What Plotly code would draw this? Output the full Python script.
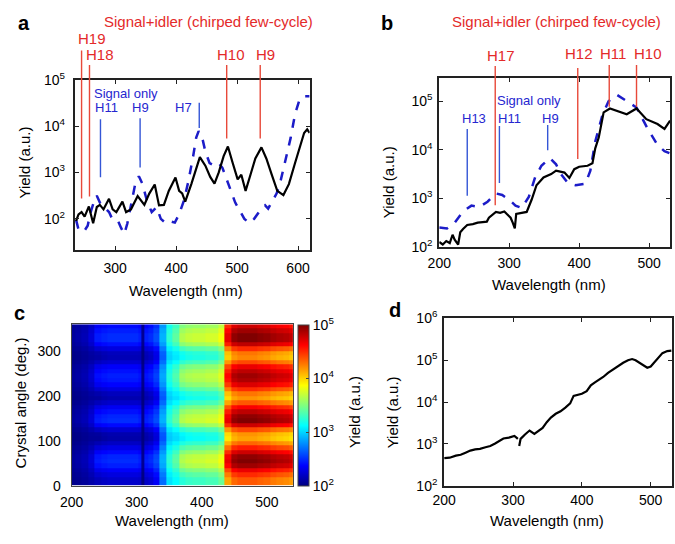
import plotly.graph_objects as go

W, H = 675, 544
FONT = "Liberation Sans, Arial, Helvetica, sans-serif"
RED = "#e42a2a"
RED_LINE = "#e8493a"
BLUE = "#2626d0"
BLUE_LINE = "#3456d6"
DASH_BLUE = "#1c1cc8"
AXC = "#222222"
TICK_SIZE = 14
TITLE_SIZE = 15

# ---------------- Panel a data ----------------
a_sum_wl = [236, 240, 245, 250, 257, 264, 270, 275, 281, 290, 296, 302, 312, 318, 326, 337, 348, 356,
            365, 372, 380, 388, 399, 405, 410, 415, 425, 432, 439, 448, 456, 463, 470, 478, 485, 493,
            501, 507, 514, 522, 530, 540, 548, 557, 566, 576, 585, 595, 603, 610, 615, 619]
a_sum_yield = [90, 125, 140, 112, 185, 80, 180, 200, 160, 270, 160, 140, 235, 140, 160, 310, 200, 350,
               550, 195, 200, 400, 780, 400, 355, 235, 560, 1120, 2140, 1400, 800, 575, 1000, 2240, 3630, 1580,
               710, 890, 400, 890, 2000, 3470, 2000, 890, 400, 325, 560, 1580, 3550, 7080, 8500, 7080]
a_sig_wl = [236, 240, 245, 250, 255, 260, 266, 270, 275, 282, 290, 296, 305, 310, 315, 320, 327, 333, 339,
            345, 352, 360, 368, 375, 383, 390, 398, 405, 413, 420, 428, 433, 437, 442, 448, 455, 462, 470,
            476, 482, 490, 497, 505, 512, 520, 528, 536, 546, 551, 556, 565, 572, 580, 588, 595, 602, 608, 619]
a_sig_yield = [95, 59, 63, 56, 71, 140, 250, 316, 224, 178, 140, 95, 89, 63, 47, 79, 224, 562, 830,
               562, 250, 140, 178, 100, 81, 89, 83, 126, 250, 630, 2240, 5620, 7760, 6310, 2820, 1580, 1410, 1580,
               1260, 794, 398, 224, 141, 100, 81, 100, 141, 195, 166, 220, 355, 708, 2000, 5620, 17800, 35500, 43600, 43600]

# ---------------- Panel b data ----------------
b_sum_wl = [200, 205, 210, 215, 219, 222, 227, 230, 234, 240, 248, 255, 262, 268, 271, 281, 287, 293, 297,
            302, 305, 308, 310, 316, 325, 332, 339, 349, 360, 367, 379, 386, 393, 400, 412, 419, 423, 428,
            435, 444, 456, 468, 482, 496, 512, 522, 530]
b_sum_yield = [126, 112, 132, 120, 178, 141, 112, 200, 234, 282, 295, 316, 324, 331, 398, 525, 501, 537, 468,
               398, 316, 240, 479, 501, 525, 933, 1860, 2690, 3160, 3720, 3390, 2630, 3980, 4470, 4680, 5250, 10700, 17800,
               58900, 70800, 61700, 53700, 70800, 42700, 33900, 26900, 39800]
b_sig_wl = [200, 211, 222, 234, 246, 257, 269, 281, 290, 300, 309, 318, 328, 337, 346, 358, 367, 374, 384,
            395, 409, 416, 423, 433, 442, 454, 465, 482, 498, 512, 522, 529]
b_sig_yield = [251, 240, 316, 537, 708, 661, 851, 1260, 1170, 933, 708, 631, 1070, 2690, 4680, 6760, 5010, 3160, 2040,
               1860, 2000, 3720, 14800, 50100, 100000, 135000, 107000, 74100, 26900, 12600, 9330, 8510]

# ---------------- Panel c data (log10 yield map) ----------------
c_wl = [200, 210, 220, 230, 240, 250, 260, 270, 280, 290, 300, 305, 310, 315, 320, 330, 340, 350, 360,
        370, 380, 390, 400, 410, 420, 430, 440, 450, 460, 470, 480, 490, 500, 510, 520, 530, 540]
c_base = [2.05, 2.07, 2.1, 2.16, 2.25, 2.28, 2.3, 2.3, 2.3, 2.3, 2.3, 2.28, 2.02, 2.28, 2.32, 2.42, 2.75, 3.1, 3.2,
          3.35, 3.4, 3.42, 3.42, 3.45, 3.45, 3.55, 4.3, 4.5, 4.55, 4.55, 4.55, 4.52, 4.5, 4.45, 4.42, 4.4, 4.35]
c_amp = [0.04, 0.05, 0.06, 0.1, 0.2, 0.2, 0.2, 0.2, 0.2, 0.2, 0.2, 0.18, 0.04, 0.18, 0.18, 0.18, 0.15, 0.15, 0.2,
         0.3, 0.3, 0.3, 0.3, 0.3, 0.3, 0.3, 0.4, 0.45, 0.45, 0.45, 0.45, 0.45, 0.45, 0.45, 0.45, 0.45, 0.45]
c_angle = [5, 15, 25, 35, 45, 55, 65, 75, 85, 95, 105, 115, 125, 135, 145, 155, 165, 175,
           185, 195, 205, 215, 225, 235, 245, 255, 265, 275, 285, 295, 305, 315, 325, 335, 345, 355]
c_mod = [-0.4, -0.4, -0.1, 0.3, 0.8, 1.0, 0.9, 0.5, 0.0, -0.5, -0.9, -0.8, -0.3, 0.5, 1.0, 0.9, 0.6, 0.2,
         -0.4, -0.8, -0.6, -0.1, 0.4, 0.7, 0.8, 0.6, 0.3, -0.3, -0.7, -0.6, -0.1, 0.6, 1.0, 1.0, 0.8, 0.5]
c_z = [[b + a * m for b, a in zip(c_base, c_amp)] for m in c_mod]

# ---------------- Panel d data ----------------
d_wl = [200, 208, 217, 224, 231, 238, 245, 252, 260, 267, 274, 280, 286, 294, 302, 305, 307, 308,
        309, 311, 317, 324, 331, 337, 343, 349, 355, 362, 369, 376, 383, 388, 393, 400, 407, 413, 419,
        425, 431, 438, 445, 452, 460, 467, 473, 478, 483, 490, 495, 500, 505, 511, 517, 524, 530]
d_yield = [457, 468, 525, 550, 617, 692, 741, 759, 832, 891, 1020, 1200, 1350, 1410, 1550, 1410, 1320, None,
           891, 1320, 1660, 2090, 1740, 2000, 2400, 3310, 4270, 5250, 6030, 7410, 9330, 14100, 14800, 15800, 18200,
           25100, 29500, 33900, 39800, 50100, 60300, 72400, 87100, 100000, 107000, 100000, 89100, 72400, 66100, 70800,
           87100, 115000, 148000, 166000, 170000]

# ---------------- Harmonic markers (nm) ----------------
a_red_wl = [245, 258, 483, 538]
a_red_lbl = ["H19", "H18", "H10", "H9"]
a_blue_wl = [276, 341, 438]
a_blue_lbl = ["H11", "H9", "H7"]
b_red_wl = [280, 398, 443, 482]
b_red_lbl = ["H17", "H12", "H11", "H10"]
b_blue_wl = [240, 286, 355]
b_blue_lbl = ["H13", "H11", "H9"]

# line extents in pixels (top, bottom) and label pixel centers
a_red_ext = [(42, 195), (57, 193), (57, 133), (57, 133)]
a_red_lblpos = [(81, 29), (90, 46), (223, 46), (258, 46)]
a_blue_ext = [(113, 173), (112, 163), (96, 122)]
a_blue_lblpos = [(96, 101), (131, 101), (175, 101)]
b_red_ext = [(58, 202), (60, 154), (57, 100), (57, 100)]
b_red_lblpos = [(498, 47), (577, 45), (612, 45), (648, 45)]
b_blue_ext = [(123, 192), (120, 179), (119, 145)]
b_blue_lblpos = [(470, 112), (507, 112), (548, 112)]


def fx(px):
    return px / W


def fy(py):
    return 1 - py / H


jet = [[0.0, "rgb(0,0,128)"], [0.125, "rgb(0,0,255)"], [0.375, "rgb(0,255,255)"],
       [0.625, "rgb(255,255,0)"], [0.875, "rgb(255,0,0)"], [1.0, "rgb(128,0,0)"]]

fig = go.Figure()

# Panel a
fig.add_trace(go.Scatter(x=a_sig_wl, y=a_sig_yield, mode="lines", xaxis="x", yaxis="y",
                         line=dict(color=DASH_BLUE, width=2.5, dash="dash"), showlegend=False))
fig.add_trace(go.Scatter(x=a_sum_wl, y=a_sum_yield, mode="lines", xaxis="x", yaxis="y",
                         line=dict(color="black", width=2.2), showlegend=False))
# Panel b
fig.add_trace(go.Scatter(x=b_sig_wl, y=b_sig_yield, mode="lines", xaxis="x2", yaxis="y2",
                         line=dict(color=DASH_BLUE, width=2.5, dash="dash"), showlegend=False))
fig.add_trace(go.Scatter(x=b_sum_wl, y=b_sum_yield, mode="lines", xaxis="x2", yaxis="y2",
                         line=dict(color="black", width=2.2), showlegend=False))
# Panel c
fig.add_trace(go.Heatmap(x=c_wl, y=c_angle, z=c_z, xaxis="x3", yaxis="y3",
                         colorscale=jet, zmin=2, zmax=5,
                         colorbar=dict(x=fx(291), xanchor="left", y=fy(492), yanchor="bottom",
                                       len=(492 - 325) / H, lenmode="fraction",
                                       thickness=11, thicknessmode="pixels", xpad=0, ypad=0,
                                       outlinewidth=1, outlinecolor="#444",
                                       tickvals=[2, 3, 4, 5],
                                       ticktext=["10<sup>2</sup>", "10<sup>3</sup>", "10<sup>4</sup>", "10<sup>5</sup>"],
                                       ticks="inside", ticklen=3,
                                       tickfont=dict(family=FONT, size=TICK_SIZE, color="black"))))
# Panel d
fig.add_trace(go.Scatter(x=d_wl, y=d_yield, mode="lines", xaxis="x4", yaxis="y4", connectgaps=False,
                         line=dict(color="black", width=2.2), showlegend=False))

common = dict(showline=True, linewidth=2, linecolor=AXC, mirror="ticks", ticks="inside",
              ticklen=4, tickwidth=1.3, tickcolor=AXC, showgrid=False, zeroline=False,
              tickfont=dict(family=FONT, size=TICK_SIZE, color="black"))
heat_ax = {**common, "ticks": "", "linewidth": 1, "linecolor": "#444", "mirror": True}

logtxt = {n: "10<sup>%d</sup>" % n for n in range(1, 7)}

fig.update_layout(
    width=W, height=H, margin=dict(l=0, r=0, t=0, b=0, pad=0), autosize=False,
    paper_bgcolor="white", plot_bgcolor="white",
    font=dict(family=FONT, size=13, color="black"),
    xaxis=dict(domain=[fx(64), fx(303)], range=[234, 619], anchor="y",
               tickvals=[300, 400, 500, 600], ticklabelstandoff=4, **common),
    yaxis=dict(domain=[fy(248), fy(72)], type="log", range=[1.333, 5], anchor="x",
               tickvals=[100, 1000, 10000, 100000], ticktext=[logtxt[n] for n in (2, 3, 4, 5)],
               ticklabelstandoff=5, **common),
    xaxis2=dict(domain=[fx(435), fx(670)], range=[200, 530], anchor="y2",
                tickvals=[200, 300, 400, 500], ticklabelstandoff=2, **common),
    yaxis2=dict(domain=[fy(245), fy(70)], type="log", range=[2, 5.484], anchor="x2",
                tickvals=[100, 1000, 10000, 100000], ticktext=[logtxt[n] for n in (2, 3, 4, 5)],
                ticklabelstandoff=2, **common),
    xaxis3=dict(domain=[fx(60.7), fx(286)], range=[200, 540], anchor="y3",
                tickvals=[200, 300, 400, 500], ticklabelstandoff=3, **heat_ax),
    yaxis3=dict(domain=[fy(492), fy(325)], range=[0, 360], anchor="x3",
                tickvals=[0, 100, 200, 300], ticklabelstandoff=7, **heat_ax),
    xaxis4=dict(domain=[fx(440), fx(672)], range=[200, 531], anchor="y4",
                tickvals=[200, 300, 400, 500], **common),
    yaxis4=dict(domain=[fy(492), fy(319)], type="log", range=[2, 6], anchor="x4",
                tickvals=[100, 1000, 10000, 100000, 1000000],
                ticktext=[logtxt[n] for n in (2, 3, 4, 5, 6)], ticklabelstandoff=2, **common),
)

shapes = []
ann = []


def vline(xref, xv, top, bot, color):
    shapes.append(dict(type="line", xref=xref, yref="paper", x0=xv, x1=xv, y0=fy(bot), y1=fy(top),
                       line=dict(color=color, width=1.4), layer="above"))


def text(px, py, s, size=13, color="black", bold=False, angle=0):
    ann.append(dict(xref="paper", yref="paper", x=fx(px), y=fy(py), text=("<b>%s</b>" % s) if bold else s,
                    showarrow=False, xanchor="center", yanchor="middle", textangle=angle,
                    font=dict(family=FONT, size=size, color=color)))


for wl, ext, lbl, pos in zip(a_red_wl, a_red_ext, a_red_lbl, a_red_lblpos):
    vline("x", wl, ext[0], ext[1], RED_LINE)
    text(pos[0], pos[1], lbl, 15, RED)
for wl, ext, lbl, pos in zip(a_blue_wl, a_blue_ext, a_blue_lbl, a_blue_lblpos):
    vline("x", wl, ext[0], ext[1], BLUE_LINE)
    text(pos[0], pos[1], lbl, 13, BLUE)
for wl, ext, lbl, pos in zip(b_red_wl, b_red_ext, b_red_lbl, b_red_lblpos):
    vline("x2", wl, ext[0], ext[1], RED_LINE)
    text(pos[0], pos[1], lbl, 15, RED)
for wl, ext, lbl, pos in zip(b_blue_wl, b_blue_ext, b_blue_lbl, b_blue_lblpos):
    vline("x2", wl, ext[0], ext[1], BLUE_LINE)
    text(pos[0], pos[1], lbl, 13, BLUE)

text(116, 86, "Signal only", 13, BLUE)
text(526, 94, "Signal only", 13, BLUE)
text(200, 12, "Signal+idler (chirped few-cycle)", 15, RED)
text(554, 12, "Signal+idler (chirped few-cycle)", 15, RED)

# panel letters
text(12, 13, "a", 20, bold=True)
text(382, 13, "b", 20, bold=True)
text(8, 313, "c", 20, bold=True)
text(390, 310, "d", 20, bold=True)

# axis titles
text(177, 290, "Wavelength (nm)", TITLE_SIZE)
text(547, 284, "Wavelength (nm)", TITLE_SIZE)
text(163, 528, "Wavelength (nm)", TITLE_SIZE)
text(545, 528, "Wavelength (nm)", TITLE_SIZE)
text(13, 158, "Yield (a.u.)", TITLE_SIZE, angle=-90)
text(383, 178, "Yield (a.u.)", TITLE_SIZE, angle=-90)
text(9, 406, "Crystal angle (deg.)", TITLE_SIZE, angle=-90)
text(387, 416, "Yield (a.u.)", TITLE_SIZE, angle=-90)
text(348, 416, "Yield (a.u.)", TITLE_SIZE, angle=-90)

fig.update_layout(shapes=shapes, annotations=ann)
fig.write_html("out.html", config={"displayModeBar": False},
               post_script="document.body.style.margin='0';document.body.style.overflow='hidden';")
